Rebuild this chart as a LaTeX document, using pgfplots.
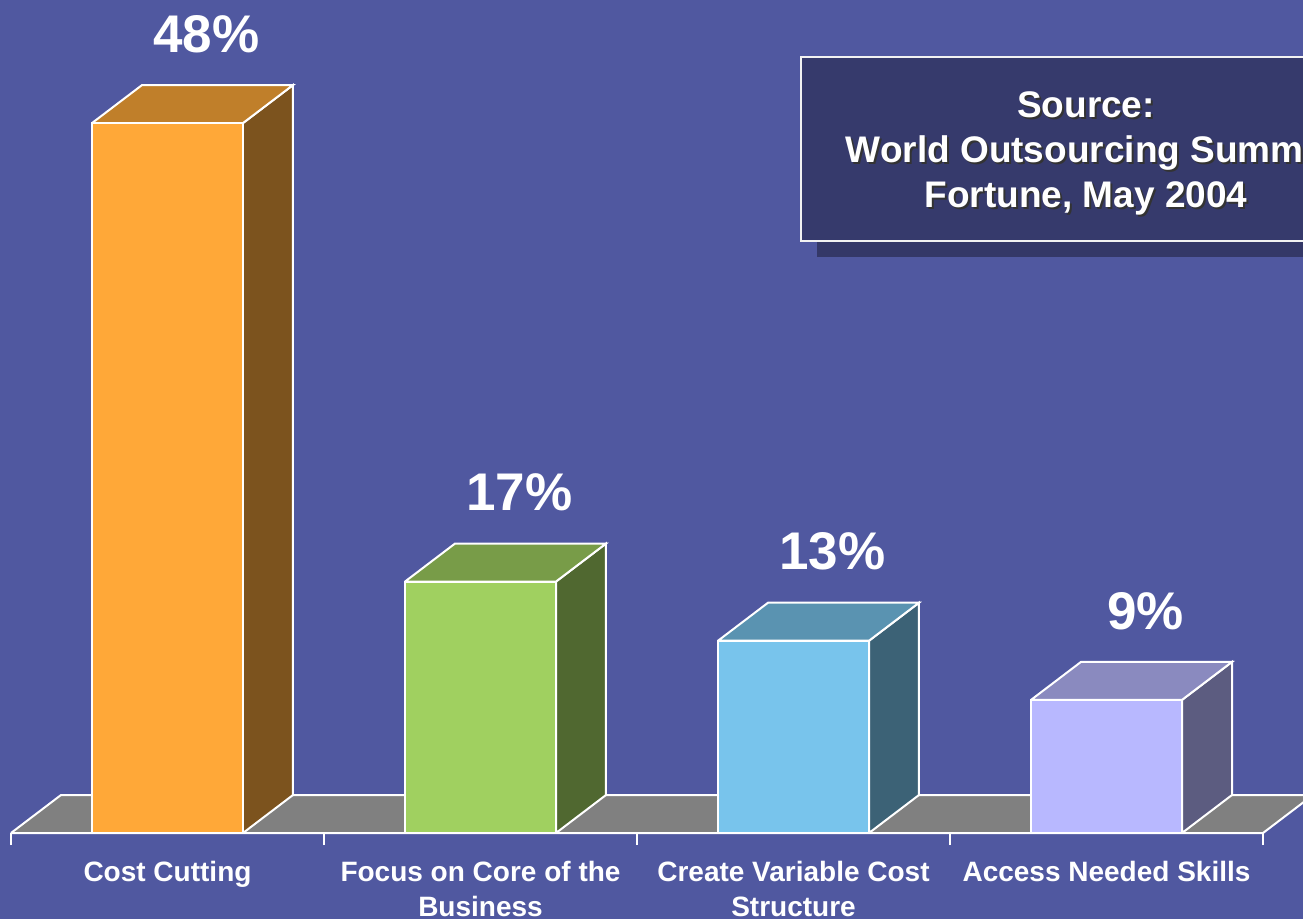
\documentclass[border=0pt]{standalone}
\usepackage{fontspec}
\setmainfont{Liberation Sans}
\usepackage{pgfplots}
\pgfplotsset{compat=1.18}
\definecolor{bg}{RGB}{80,88,160}
\definecolor{floorc}{RGB}{128,128,128}
\definecolor{oF}{RGB}{255,168,56}\definecolor{oT}{RGB}{192,127,42}\definecolor{oS}{RGB}{124,83,30}
\definecolor{gF}{RGB}{160,208,96}\definecolor{gT}{RGB}{120,156,72}\definecolor{gS}{RGB}{80,104,48}
\definecolor{cF}{RGB}{120,196,236}\definecolor{cT}{RGB}{90,147,177}\definecolor{cS}{RGB}{60,98,118}
\definecolor{pF}{RGB}{184,184,255}\definecolor{pT}{RGB}{138,138,191}\definecolor{pS}{RGB}{92,92,128}
\definecolor{boxc}{RGB}{54,58,108}
\definecolor{boxsh}{RGB}{52,56,104}
\pgfplotsset{
  frontbar/.style={ybar, bar width=151pt, bar shift=0pt, draw=white, line width=2pt,
    nodes near coords={\pgfmathprintnumber[assume math mode=true]{\pgfplotspointmeta}\%},
    every node near coord/.append style={anchor=center, xshift=39pt, yshift=89pt, text=white, font=\bfseries\fontsize{53}{60}\selectfont}},
  face/.style={draw=white, line width=2pt},
}
\begin{document}
\begin{tikzpicture}
\useasboundingbox (0,0) rectangle (1303pt,919pt);
\fill[bg] (0,0) rectangle (1303pt,919pt);
\begin{scope}
\clip (0,0) rectangle (1303pt,919pt);
\begin{axis}[
  at={(11pt,86pt)}, anchor=south west,
  x=313pt, y=14.79pt,
  xmin=-0.5, xmax=3.5, ymin=0, ymax=56.3,
  clip=false,
  axis x line*=bottom,
  hide y axis,
  axis line style={white, line width=2pt},
  xtick={0,1,2,3},
  xticklabels={Cost Cutting, {Focus on Core of the\\Business}, {Create Variable Cost\\Structure}, Access Needed Skills},
  xticklabel style={text=white, font=\bfseries\fontsize{28}{35}\selectfont, align=center, anchor=north, yshift=-25pt},
  major tick length=0pt,
  minor xtick={-0.5,0.5,1.5,2.5,3.5},
  minor tick length=12pt,
  tick align=outside,
  tick style={white, line width=2pt},
]
% floor
\addplot[fill=floorc, face] coordinates {(-0.5,0) (-0.3403,2.569) (3.6597,2.569) (3.5,0) (-0.5,0)};
% bar 1: Cost Cutting 48
\addplot[fill=oS, face] coordinates {(0.2412,0) (0.4009,2.569) (0.4009,50.569) (0.2412,48) (0.2412,0)};
\addplot[fill=oT, face] coordinates {(-0.2412,48) (0.2412,48) (0.4009,50.569) (-0.0815,50.569) (-0.2412,48)};
\addplot[frontbar, fill=oF] coordinates {(0,48)};
% bar 2: Focus on Core 17
\addplot[fill=gS, face] coordinates {(1.2412,0) (1.4009,2.569) (1.4009,19.569) (1.2412,17) (1.2412,0)};
\addplot[fill=gT, face] coordinates {(0.7588,17) (1.2412,17) (1.4009,19.569) (0.9185,19.569) (0.7588,17)};
\addplot[frontbar, fill=gF] coordinates {(1,17)};
% bar 3: Variable cost 13
\addplot[fill=cS, face] coordinates {(2.2412,0) (2.4009,2.569) (2.4009,15.569) (2.2412,13) (2.2412,0)};
\addplot[fill=cT, face] coordinates {(1.7588,13) (2.2412,13) (2.4009,15.569) (1.9185,15.569) (1.7588,13)};
\addplot[frontbar, fill=cF] coordinates {(2,13)};
% bar 4: Skills 9
\addplot[fill=pS, face] coordinates {(3.2412,0) (3.4009,2.569) (3.4009,11.569) (3.2412,9) (3.2412,0)};
\addplot[fill=pT, face] coordinates {(2.7588,9) (3.2412,9) (3.4009,11.569) (2.9185,11.569) (2.7588,9)};
\addplot[frontbar, fill=pF] coordinates {(3,9)};
\end{axis}
% source box
\fill[boxsh] (817pt,662pt) rectangle (1400pt,846pt);
\draw[fill=boxc, draw=white!90!gray, line width=1.5pt] (801pt,678pt) rectangle (1400pt,862pt);
\node[text=black!80, align=center, font=\bfseries\fontsize{37}{45}\selectfont] at (1088pt,764pt) {Source:\\World Outsourcing Summit\\Fortune, May 2004};
\node[text=white, align=center, font=\bfseries\fontsize{37}{45}\selectfont] at (1086pt,766pt) {Source:\\World Outsourcing Summit\\Fortune, May 2004};
\end{scope}
\end{tikzpicture}
\end{document}
